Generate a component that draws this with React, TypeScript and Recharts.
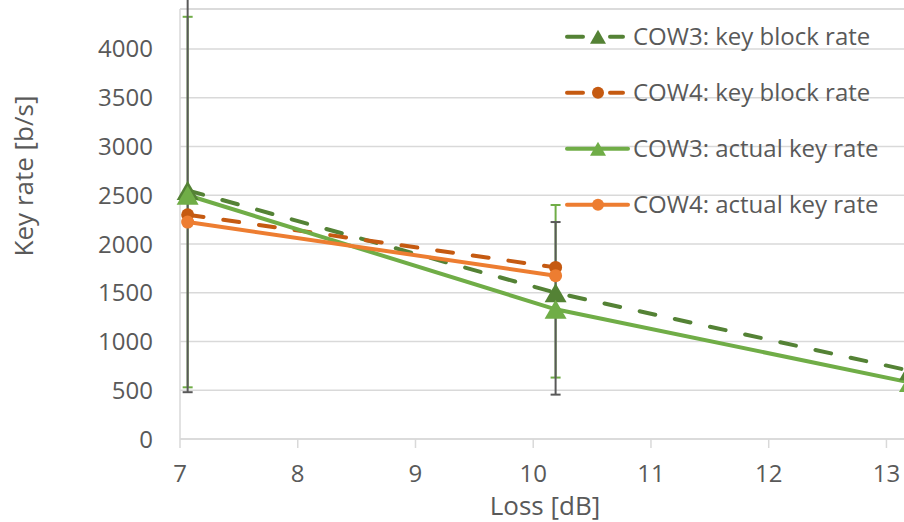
import React from 'react';
import { LineChart, Line, XAxis, YAxis, CartesianGrid, ErrorBar, Legend, ReferenceLine } from 'recharts';

// Loss values at which the key rates were measured
const lossDb = [7.065, 10.19, 13.2];

// Key rates [b/s]
const cow3KeyBlockRate = [2550, 1500, 700];
const cow4KeyBlockRate = [2300, 1760, null];
const cow3ActualRate = [2500, 1330, 580];
const cow4ActualRate = [2225, 1675, null];

// Spread of the actual key rate (min / max)
const cow3ActualMin = [530, 630, null];
const cow3ActualMax = [4330, 2400, null];
const cow4ActualMin = [480, 455, null];
const cow4ActualMax = [4700, 2225, null];

const xTicks = [7, 8, 9, 10, 11, 12, 13];
const yTicks = [0, 500, 1000, 1500, 2000, 2500, 3000, 3500, 4000];
const yMax = 4410;

const FONT = "'Open Sans', sans-serif";
const TEXT = '#595959';
const GRID = '#d9d9d9';

const spread = (v: number | null, lo: number | null, hi: number | null) =>
  v == null || lo == null || hi == null ? undefined : [v - lo, hi - v];

const data = lossDb.map((loss, i) => ({
  loss,
  cow3Block: cow3KeyBlockRate[i],
  cow4Block: cow4KeyBlockRate[i],
  cow3Actual: cow3ActualRate[i],
  cow4Actual: cow4ActualRate[i],
  cow3ActualErr: spread(cow3ActualRate[i], cow3ActualMin[i], cow3ActualMax[i]),
  cow4ActualErr: spread(cow4ActualRate[i], cow4ActualMin[i], cow4ActualMax[i]),
}));

type Series = { key: string; name: string; color: string; dashed: boolean; marker: 'triangle' | 'circle' };

const series: Series[] = [
  { key: 'cow3Block', name: 'COW3: key block rate', color: '#548235', dashed: true, marker: 'triangle' },
  { key: 'cow4Block', name: 'COW4: key block rate', color: '#C55A11', dashed: true, marker: 'circle' },
  { key: 'cow3Actual', name: 'COW3: actual key rate', color: '#70AD47', dashed: false, marker: 'triangle' },
  { key: 'cow4Actual', name: 'COW4: actual key rate', color: '#ED7D31', dashed: false, marker: 'circle' },
];

function markerShape(kind: string, color: string, cx: number, cy: number, size: number, key?: any) {
  if (kind === 'triangle') {
    const w = size;
    const h = size * 0.866;
    const pts = `${cx},${cy - h / 2} ${cx - w / 2},${cy + h / 2} ${cx + w / 2},${cy + h / 2}`;
    return <polygon key={key} points={pts} fill={color} />;
  }
  return <circle key={key} cx={cx} cy={cy} r={size / 2} fill={color} />;
}

const makeDot = (s: Series) => (props: any) => {
  const { cx, cy, index } = props;
  if (cx == null || cy == null || props.value == null) return <g key={index} />;
  return markerShape(s.marker, s.color, cx, cy, s.marker === 'triangle' ? 22 : 13, index);
};

function LegendBox() {
  return (
    <svg width={340} height={230} style={{ display: 'block' }}>
      {series.map((s, i) => {
        const y = 36.7 + i * 56;
        return (
          <g key={s.key}>
            {s.dashed ? (
              <>
                <line x1={7} y1={y} x2={23} y2={y} stroke={s.color} strokeWidth={4} strokeLinecap="round" />
                <line x1={50} y1={y} x2={63} y2={y} stroke={s.color} strokeWidth={4} strokeLinecap="round" />
              </>
            ) : (
              <line x1={7} y1={y} x2={68} y2={y} stroke={s.color} strokeWidth={4} strokeLinecap="round" />
            )}
            {markerShape(s.marker, s.color, 38, y, s.marker === 'triangle' ? 16 : 12)}
            <text x={73} y={y + 8.5} fontFamily={FONT} fontSize={24} fill={TEXT}>{s.name}</text>
          </g>
        );
      })}
    </svg>
  );
}

const YTitle = (props: any) => {
  const vb = props.viewBox;
  const x = vb.x + 23;
  const y = vb.y + vb.height / 2 - 48;
  return (
    <text x={x} y={y} transform={`rotate(-90 ${x} ${y})`} textAnchor="middle" dominantBaseline="central"
      fontFamily={FONT} fontSize={26} fill={TEXT}>Key rate [b/s]</text>
  );
};

const XTitle = (props: any) => {
  const vb = props.viewBox;
  return (
    <text x={vb.x + vb.width / 2} y={vb.y + 76} textAnchor="middle" fontFamily={FONT} fontSize={26} fill={TEXT}>
      Loss [dB]
    </text>
  );
};

export default function App() {
  return (
    <div style={{ position: 'fixed', left: 0, top: 0, width: 904, height: 522, overflow: 'hidden', background: '#fff' }}>
      <LineChart width={920} height={522} data={data} margin={{ top: 9, right: 10, bottom: 0, left: 0 }}>
        <CartesianGrid horizontal vertical={false} stroke={GRID} strokeWidth={1.5} />
        <ReferenceLine y={yMax} stroke={GRID} strokeWidth={1.5} />
        <XAxis
          type="number"
          dataKey="loss"
          domain={[7, 13.2]}
          ticks={xTicks}
          height={83}
          axisLine={{ stroke: GRID, strokeWidth: 1.5 }}
          tickLine={{ stroke: GRID, strokeWidth: 1.5 }}
          tickSize={9}
          tickMargin={17}
          tick={{ fontFamily: FONT, fontSize: 24, fill: TEXT }}
          label={<XTitle />}
        />
        <YAxis
          type="number"
          domain={[0, yMax]}
          allowDataOverflow
          ticks={yTicks}
          width={180}
          axisLine={{ stroke: GRID, strokeWidth: 1.5 }}
          tickLine={false}
          tickSize={0}
          tickMargin={27}
          tick={{ fontFamily: FONT, fontSize: 24, fill: TEXT }}
          label={<YTitle />}
        />
        {/* error bars sit underneath the series */}
        <Line dataKey="cow3Actual" stroke="none" dot={false} activeDot={false} legendType="none" isAnimationActive={false}>
          <ErrorBar dataKey="cow3ActualErr" direction="y" width={5} stroke="#70AD47" strokeWidth={2} isAnimationActive={false} />
        </Line>
        <Line dataKey="cow4Actual" stroke="none" dot={false} activeDot={false} legendType="none" isAnimationActive={false}>
          <ErrorBar dataKey="cow4ActualErr" direction="y" width={5} stroke="#595959" strokeWidth={2} isAnimationActive={false} />
        </Line>
        {series.map((s) => (
          <Line
            key={s.key}
            dataKey={s.key}
            name={s.name}
            stroke={s.color}
            strokeWidth={4}
            strokeDasharray={s.dashed ? '16 20' : undefined}
            strokeLinecap="round"
            dot={makeDot(s)}
            activeDot={false}
            isAnimationActive={false}
          />
        ))}
        <Legend
          layout="vertical"
          align="center"
          verticalAlign="middle"
          wrapperStyle={{ left: 560, top: 0, width: 340 }}
          content={() => <LegendBox />}
        />
      </LineChart>
    </div>
  );
}
